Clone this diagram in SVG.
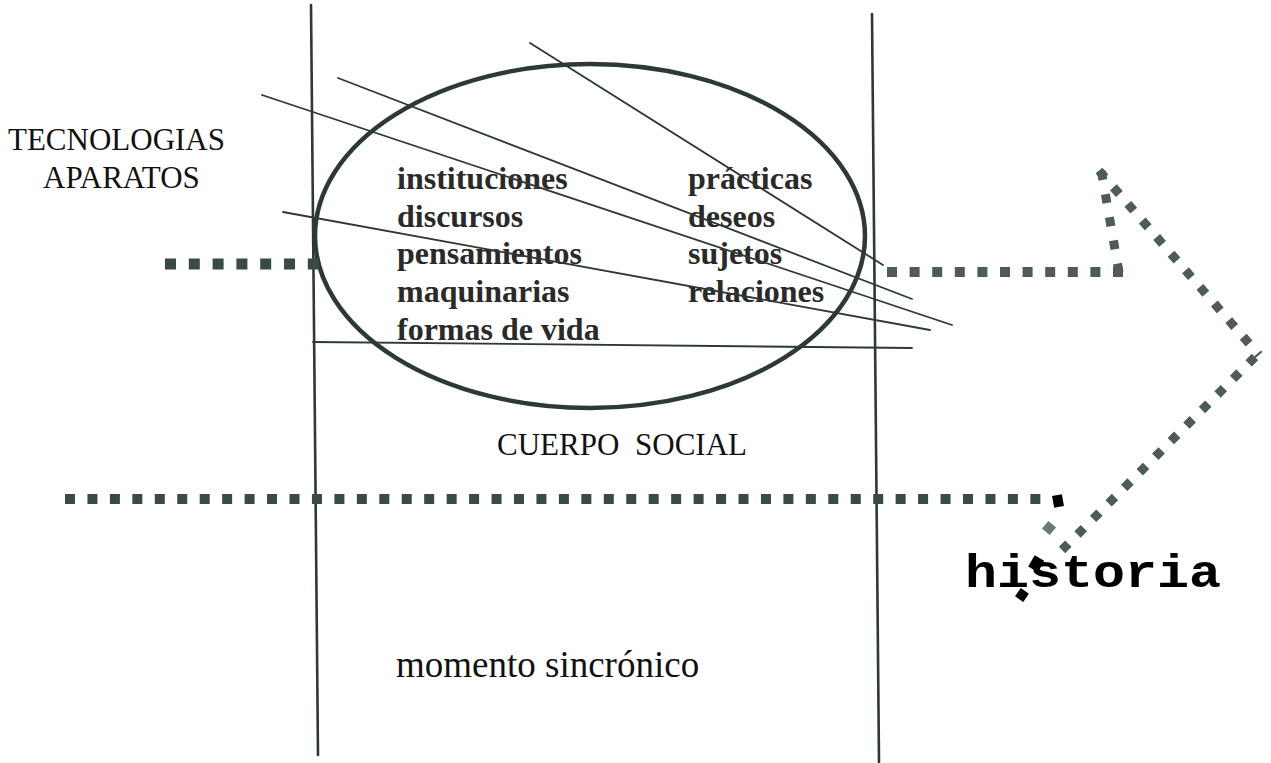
<svg xmlns="http://www.w3.org/2000/svg" width="1271" height="763" viewBox="0 0 1271 763">
<style>
.ln{stroke:#2c3a33;fill:none;stroke-linecap:round}
.thin{stroke-width:1.8}
.vert{stroke-width:2.6}
.dk{stroke:#3a4b43;fill:none}
.ar{stroke:#4d5d55;fill:none}
.serif{font-family:"Liberation Serif","Times New Roman",serif;fill:#111}
.bold{font-weight:bold;font-size:32px;fill:#2a2a2a}
</style>
<rect width="1271" height="763" fill="#ffffff"/>
<g id="frame">
<line class="ln vert" x1="311" y1="5" x2="318" y2="755"/>
<line class="ln vert" x1="872" y1="14" x2="879" y2="762"/>
</g>
<g id="cuerpo-social">
<ellipse cx="590" cy="236" rx="275" ry="172" fill="none" stroke="#2c3a33" stroke-width="4.5"/>
<text class="serif bold" x="397" y="189">instituciones</text>
<text class="serif bold" x="397" y="227">discursos</text>
<text class="serif bold" x="397" y="264">pensamientos</text>
<text class="serif bold" x="397" y="302">maquinarias</text>
<text class="serif bold" x="397" y="340">formas de vida</text>
<text class="serif bold" x="688" y="189">prácticas</text>
<text class="serif bold" x="688" y="227">deseos</text>
<text class="serif bold" x="688" y="264">sujetos</text>
<text class="serif bold" x="688" y="302">relaciones</text>
<text class="serif" x="497" y="455" font-size="31" word-spacing="8">CUERPO SOCIAL</text>
</g>
<g id="tecnologias">
<text class="serif" x="8" y="150" font-size="31">TECNOLOGIAS</text>
<text class="serif" x="43" y="188" font-size="31">APARATOS</text>
</g>
<g id="momento">
<text class="serif" x="396" y="677" font-size="37">momento sincrónico</text>
</g>
<g id="historia">
<text x="965" y="587" font-family="'Liberation Mono','Courier New',monospace" font-weight="bold" font-size="46" textLength="256" lengthAdjust="spacingAndGlyphs" fill="#000">historia</text>
</g>
<g id="connectors">
<line class="ln thin" x1="530" y1="43" x2="883" y2="265"/>
<line class="ln thin" x1="338" y1="78" x2="912" y2="299"/>
<line class="ln thin" x1="262" y1="95" x2="952" y2="325"/>
<line class="ln thin" x1="283" y1="212" x2="930" y2="330"/>
<line class="ln thin" x1="313" y1="342" x2="912" y2="348"/>
<line class="dk" x1="165" y1="264" x2="320" y2="264" stroke-width="11" stroke-dasharray="11 12.8"/>
<line class="dk" x1="65" y1="499" x2="1041" y2="499" stroke-width="10" stroke-dasharray="10 12.45"/>
<line class="ar" x1="887" y1="272" x2="1123" y2="272" stroke-width="10" stroke-dasharray="10 12.6"/>
<line class="ar" x1="1119" y1="272.5" x2="1101" y2="169" stroke-width="9" stroke-dasharray="9 14.5"/>
<line class="ar" x1="1099" y1="170.6" x2="1259" y2="355" stroke-width="9" stroke-dasharray="9 13"/>
<line class="ar" x1="1255" y1="357" x2="1062" y2="550" stroke-width="9" stroke-dasharray="9 13"/>
<rect x="1053" y="495" width="10" height="12" fill="#000" transform="rotate(-10 1058 501)"/>
<rect x="1044" y="523" width="10" height="10" fill="#6b7a72" transform="rotate(40 1049 528)"/>
<rect x="1031" y="557" width="11" height="13" fill="#000" transform="rotate(30 1036 563)"/>
<rect x="1017" y="590" width="10" height="10" fill="#000" transform="rotate(35 1022 595)"/>
</g>
</svg>
